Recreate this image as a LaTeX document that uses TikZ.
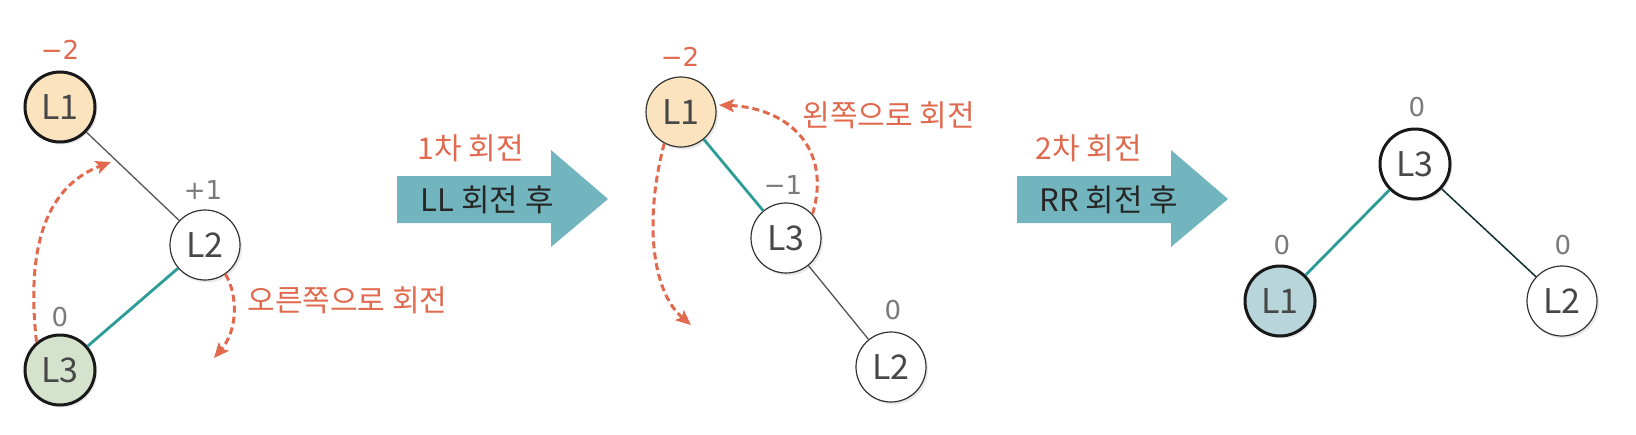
\documentclass[tikz,border=0pt]{standalone}
\usepackage{fontspec}
\setmainfont{Noto Sans CJK KR}
\newfontfamily\labfont{DejaVu Sans}
\usetikzlibrary{arrows.meta,shadows}
\definecolor{ored}{HTML}{E0694E}
\definecolor{tealc}{HTML}{2B9C98}
\definecolor{arrowc}{HTML}{73B5BE}
\definecolor{fillor}{HTML}{FBE3BE}
\definecolor{fillgr}{HTML}{D5E3CD}
\definecolor{fillbl}{HTML}{B7D5DA}
\definecolor{graytxt}{HTML}{7A7A7A}
\definecolor{edgec}{HTML}{555555}
\begin{document}
\begin{tikzpicture}[x=1pt,y=-1pt,
  nd/.style={circle, minimum size=70pt, inner sep=0pt, draw=black!80, line width=1.2pt, fill=white,
    font=\fontsize{34}{34}\selectfont, text=black!72,
    drop shadow={opacity=0.18, shadow xshift=2pt, shadow yshift=-2.5pt}},
  thk/.style={line width=3pt, draw=black!90},
  bal/.style={font=\labfont\fontsize{26}{26}\selectfont, text=graytxt},
  balr/.style={font=\labfont\fontsize{26}{26}\selectfont, text=ored},
  rtxt/.style={font=\fontsize{30}{30}\selectfont, text=ored},
  atxt/.style={font=\fontsize{31}{31}\selectfont, text=black!85},
  thin/.style={draw=edgec, line width=1.3pt},
  teal/.style={draw=tealc, line width=2.8pt},
  dsh/.style={draw=ored, line width=3pt, dash pattern=on 7pt off 4pt,
    -{Stealth[length=15pt,width=13pt,inset=3pt]}},
  bigarrow/.style={fill=arrowc}
]
\useasboundingbox (0,0) rectangle (1636,434);

% ---- tree 1 ----
\node[nd, thk, fill=fillor] (a1) at (60,107) {L1};
\node[nd] (a2) at (205,245) {L2};
\node[nd, thk, fill=fillgr] (a3) at (60,370) {L3};
\node[balr] (ba1) at (60,50) {−2};
\node[bal] (ba2) at (203,190) {+1};
\node[bal] (ba3) at (60,317) {0};
\draw[thin] (a1) -- (a2);
\draw[teal] (a2) -- (a3);
\coordinate (t1) at (111,162);
\draw[dsh] (a3.130) .. controls (25,240) and (50,185) .. (t1);
\coordinate (t2) at (214,358);
\draw[dsh] (a2.-55) .. controls (238,295) and (238,330) .. (t2);
\node[rtxt, anchor=west] (r1) at (244,300) {오른쪽으로 회전};

% ---- arrow 1 ----
\fill[bigarrow] (397,176) -- (551,176) -- (551,150) -- (608,199) -- (551,247) -- (551,223) -- (397,223) -- cycle;
\node[atxt] (ar1) at (487,200) {LL 회전 후};
\node[rtxt] (ar1t) at (471,148) {1차 회전};

% ---- tree 2 ----
\node[nd, fill=fillor] (b1) at (681,112) {L1};
\node[nd] (b3) at (786,238) {L3};
\node[nd] (b2) at (891,367) {L2};
\node[balr] (bb1) at (680,57) {−2};
\node[bal] (bb3) at (783,185) {−1};
\node[bal] (bb2) at (893,310) {0};
\draw[teal] (b1) -- (b3);
\draw[thin] (b3) -- (b2);
\coordinate (t3) at (691,325);
\draw[dsh] (b1.-118) .. controls (645,215) and (650,290) .. (t3);
\coordinate (t4) at (719,105);
\draw[dsh] (b3.42) .. controls (832,150) and (790,108) .. (t4);
\node[rtxt, anchor=west] (r2) at (799,115) {왼쪽으로 회전};

% ---- arrow 2 ----
\fill[bigarrow] (1017,176) -- (1171,176) -- (1171,150) -- (1228,199) -- (1171,247) -- (1171,223) -- (1017,223) -- cycle;
\node[atxt] (ar2) at (1109,200) {RR 회전 후};
\node[rtxt] (ar2t) at (1089,148) {2차 회전};

% ---- tree 3 ----
\node[nd, thk] (c3) at (1415,164) {L3};
\node[nd, thk, fill=fillbl] (c1) at (1280,301) {L1};
\node[nd] (c2) at (1562,301) {L2};
\node[bal] (bc3) at (1417,107) {0};
\node[bal] (bc1) at (1282,245) {0};
\node[bal] (bc2) at (1563,245) {0};
\draw[teal] (c3) -- (c1);
\draw[draw=black!70!tealc, line width=1.5pt] (c3) -- (c2);
\end{tikzpicture}
\end{document}
